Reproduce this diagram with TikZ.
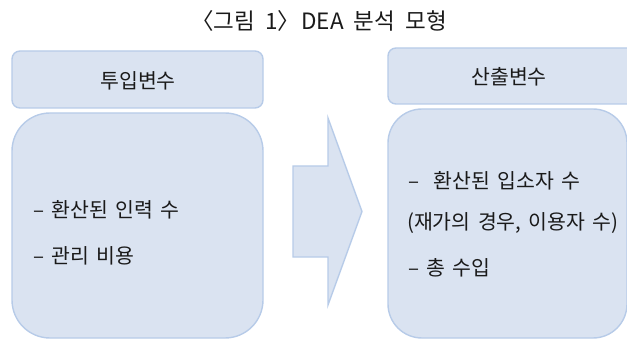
\documentclass[tikz,border=0pt]{standalone}
\usepackage{fontspec}
\setmainfont{Noto Sans CJK KR}
\definecolor{boxfill}{HTML}{DAE3F1}
\definecolor{boxline}{HTML}{B7CBE8}
\definecolor{txt}{HTML}{1A1A1A}
\newcommand{\widesp}{\spaceskip=0.36em plus 0.1em\relax}
\newcommand{\titlesp}{\spaceskip=0.45em plus 0.1em\relax}
\begin{document}
\begin{tikzpicture}[x=1pt,y=-1pt,
  box/.style={draw=boxline, fill=boxfill, line width=1.4pt, inner sep=0pt},
  lbl/.style={text=txt, font=\fontsize{20.5}{24}\selectfont\widesp, inner sep=0pt},
  item/.style={lbl, anchor=west}]
\useasboundingbox (0,0) rectangle (627,342);
% title
\node[text=txt, font=\fontsize{22.5}{26}\selectfont\titlesp, inner sep=0pt] (title) at (319,21) {〈그림 1〉\kern-0.4em\ DEA 분석 모형};
% left boxes
\node[box, rounded corners=8pt, minimum width=251pt, minimum height=57pt] (inhead) at (137.5,79.5) {};
\node[box, rounded corners=38pt, minimum width=251pt, minimum height=225pt] (inbody) at (137.5,225.5) {};
% right boxes
\node[box, rounded corners=8pt, minimum width=262pt, minimum height=56pt] (outhead) at (519,76) {};
\node[box, rounded corners=34pt, minimum width=239pt, minimum height=229pt] (outbody) at (507.5,223.5) {};
% arrow
\draw[box] (293,166) -- (328,166) -- (328,118) -- (362,211.5) -- (328,305) -- (328,257) -- (293,257) -- cycle;
% labels
\node[lbl] (inlabel) at (138,81) {투입변수};
\node[lbl] (outlabel) at (509,77) {산출변수};
\node[item] (in1) at (33,210) {– 환산된 인력 수};
\node[item] (in2) at (33,256) {– 관리 비용};
\node[item] (out1) at (408,181) {–\hspace{0.7em}환산된 입소자 수};
\node[item] (out2) at (407,223) {(재가의 경우, 이용자 수)};
\node[item] (out3) at (408,268) {– 총 수입};
\end{tikzpicture}
\end{document}
